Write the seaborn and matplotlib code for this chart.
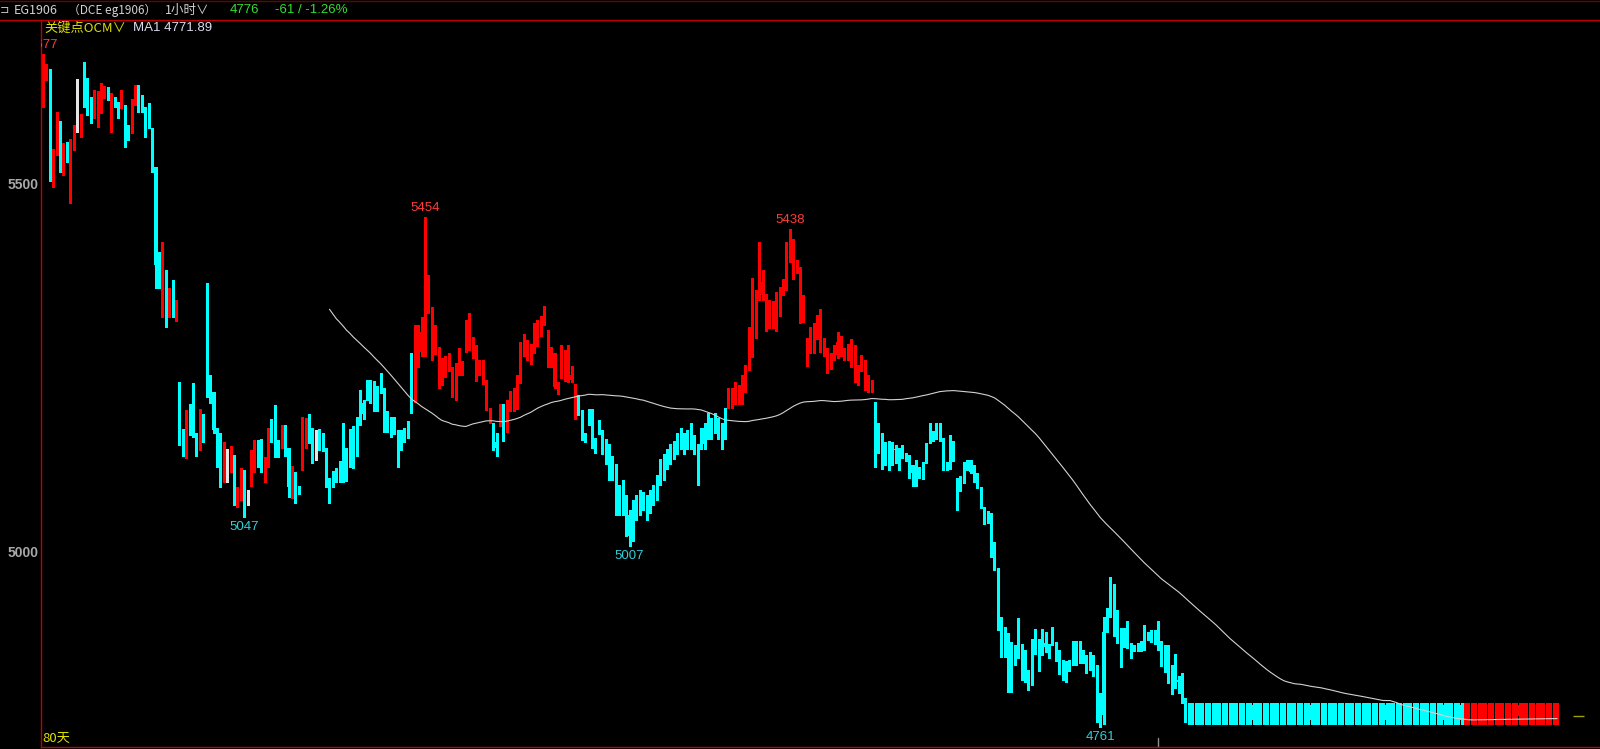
import numpy as np
import pandas as pd
import matplotlib
matplotlib.use("Agg")
import matplotlib.pyplot as plt
from matplotlib.lines import Line2D
import seaborn as sns

# ---- EG1906 hourly candles ----
opens = [
    5618, 5644, 5651, 5505, 5582, 5583, 5523, 5549, 5519, 5549,  # 0
    5573, 5573, 5648, 5641, 5618, 5591, 5591, 5603, 5622, 5630,  # 10
    5588, 5614, 5610, 5604, 5578, 5576, 5570, 5611, 5627, 5606,  # 20
    5599, 5587, 5561, 5523, 5389, 5385, 5380, 5347, 5354, 5321,  # 30
    5199, 5158, 5142, 5184, 5199, 5154, 5140, 5181, 5301, 5233,  # 40
    5216, 5166, 5140, 5114, 5120, 5114, 5103, 5074, 5074, 5107,  # 50
    5072, 5093, 5110, 5135, 5151, 5110, 5117, 5158, 5167, 5147,  # 60
    5142, 5164, 5140, 5087, 5103, 5086, 5140, 5142, 5174, 5151,  # 70
    5161, 5161, 5155, 5140, 5099, 5106, 5107, 5117, 5110, 5135,  # 80
    5120, 5155, 5137, 5219, 5201, 5219, 5223, 5223, 5217, 5226,  # 90
    5210, 5182, 5182, 5182, 5140, 5154, 5165, 5165, 5216, 5203,  # 100
    5250, 5271, 5271, 5325, 5298, 5276, 5240, 5237, 5242, 5253,  # 110
    5223, 5226, 5242, 5244, 5274, 5285, 5271, 5233, 5251, 5230,  # 120
    5192, 5178, 5174, 5148, 5172, 5196, 5168, 5195, 5210, 5196,  # 130
    5229, 5278, 5284, 5264, 5278, 5280, 5310, 5308, 5294, 5260,  # 140
    5270, 5226, 5240, 5237, 5270, 5233, 5192, 5206, 5192, 5160,  # 150
    5189, 5189, 5154, 5176, 5161, 5146, 5139, 5125, 5118, 5076,  # 160
    5097, 5069, 5049, 5062, 5069, 5069, 5076, 5069, 5076, 5083,  # 170
    5097, 5118, 5125, 5132, 5139, 5146, 5153, 5160, 5153, 5160,  # 180
    5167, 5153, 5139, 5160, 5167, 5181, 5174, 5181, 5174, 5167,  # 190
    5181, 5215, 5200, 5205, 5206, 5206, 5216, 5246, 5283, 5346,  # 200
    5342, 5349, 5319, 5304, 5306, 5331, 5324, 5349, 5355, 5393,  # 210
    5372, 5383, 5317, 5314, 5276, 5276, 5297, 5298, 5271, 5278,  # 220
    5251, 5251, 5271, 5267, 5270, 5260, 5264, 5251, 5233, 5237,  # 230
    5256, 5226, 5218, 5218, 5189, 5154, 5153, 5138, 5147, 5147,  # 240
    5138, 5140, 5138, 5132, 5131, 5117, 5114, 5114, 5121, 5147,  # 250
    5162, 5162, 5162, 5162, 5154, 5121, 5148, 5148, 5099, 5094,  # 260
    5121, 5121, 5124, 5117, 5106, 5087, 5049, 5052, 5052, 5008,  # 270
    4977, 4893, 4889, 4875, 4869, 4869, 4869, 4868, 4861, 4831,  # 280
    4875, 4869, 4879, 4872, 4875, 4872, 4882, 4876, 4856, 4852,  # 290
    4848, 4849, 4849, 4865, 4863, 4863, 4859, 4859, 4855, 4845,  # 300
    4795, 4777, 4897, 4910, 4951, 4906, 4888, 4888, 4890, 4875,  # 310
    4872, 4872, 4872, 4883, 4883, 4888, 4887, 4888, 4872, 4868,  # 320
    4868, 4845, 4827, 4825, 4815, 4800,                          # 330
]
highs = [
    5677, 5663, 5656, 5547, 5598, 5585, 5555, 5557, 5561, 5580,
    5642, 5595, 5666, 5644, 5618, 5627, 5626, 5637, 5633, 5632,
    5623, 5618, 5611, 5627, 5607, 5580, 5615, 5634, 5634, 5621,
    5604, 5610, 5576, 5523, 5407, 5421, 5383, 5358, 5369, 5342,
    5230, 5166, 5192, 5200, 5229, 5160, 5193, 5187, 5365, 5239,
    5216, 5167, 5161, 5148, 5139, 5143, 5131, 5087, 5113, 5110,
    5083, 5137, 5151, 5151, 5153, 5128, 5167, 5180, 5199, 5151,
    5172, 5171, 5140, 5116, 5107, 5088, 5182, 5181, 5187, 5168,
    5165, 5166, 5161, 5140, 5099, 5109, 5113, 5122, 5174, 5140,
    5166, 5170, 5182, 5219, 5205, 5233, 5233, 5231, 5225, 5242,
    5222, 5190, 5182, 5182, 5165, 5165, 5168, 5177, 5270, 5308,
    5308, 5318, 5454, 5376, 5332, 5308, 5278, 5263, 5266, 5270,
    5250, 5256, 5276, 5258, 5314, 5324, 5291, 5280, 5260, 5260,
    5233, 5195, 5174, 5160, 5200, 5200, 5205, 5218, 5222, 5240,
    5284, 5296, 5287, 5282, 5310, 5314, 5320, 5334, 5301, 5278,
    5270, 5230, 5280, 5274, 5280, 5252, 5227, 5212, 5192, 5160,
    5193, 5193, 5154, 5178, 5165, 5153, 5146, 5130, 5118, 5090,
    5097, 5076, 5056, 5069, 5076, 5083, 5080, 5076, 5083, 5090,
    5104, 5125, 5132, 5139, 5146, 5150, 5160, 5167, 5160, 5165,
    5174, 5158, 5146, 5167, 5174, 5188, 5181, 5188, 5181, 5174,
    5195, 5222, 5222, 5230, 5226, 5240, 5253, 5305, 5372, 5355,
    5420, 5383, 5350, 5342, 5340, 5352, 5360, 5370, 5420, 5438,
    5425, 5396, 5387, 5348, 5290, 5305, 5310, 5321, 5330, 5290,
    5276, 5270, 5280, 5298, 5293, 5276, 5282, 5288, 5280, 5253,
    5267, 5260, 5240, 5233, 5203, 5174, 5160, 5148, 5150, 5148,
    5145, 5140, 5145, 5134, 5131, 5117, 5124, 5115, 5121, 5147,
    5174, 5164, 5174, 5174, 5154, 5121, 5158, 5150, 5099, 5102,
    5121, 5124, 5124, 5117, 5106, 5087, 5060, 5055, 5052, 5012,
    4977, 4910, 4896, 4889, 4876, 4872, 4909, 4874, 4865, 4838,
    4880, 4894, 4880, 4894, 4890, 4874, 4897, 4876, 4865, 4852,
    4850, 4852, 4878, 4878, 4878, 4865, 4859, 4862, 4859, 4845,
    4807, 4910, 4922, 4965, 4955, 4920, 4895, 4895, 4905, 4875,
    4872, 4875, 4877, 4900, 4890, 4893, 4892, 4905, 4877, 4872,
    4872, 4845, 4860, 4830, 4834, 4800,
]
lows = [
    5604, 5641, 5503, 5495, 5539, 5516, 5512, 5530, 5474, 5546,
    5570, 5564, 5604, 5593, 5583, 5589, 5577, 5596, 5617, 5614,
    5570, 5604, 5589, 5603, 5550, 5559, 5569, 5607, 5598, 5597,
    5564, 5576, 5516, 5358, 5358, 5319, 5305, 5319, 5319, 5313,
    5144, 5130, 5127, 5158, 5155, 5130, 5137, 5149, 5210, 5201,
    5160, 5114, 5087, 5094, 5094, 5108, 5063, 5060, 5070, 5047,
    5062, 5089, 5107, 5114, 5107, 5094, 5114, 5148, 5128, 5128,
    5140, 5129, 5074, 5072, 5066, 5077, 5110, 5140, 5147, 5120,
    5124, 5138, 5136, 5087, 5065, 5087, 5094, 5094, 5094, 5096,
    5115, 5113, 5130, 5172, 5180, 5205, 5201, 5190, 5190, 5215,
    5162, 5162, 5155, 5159, 5114, 5137, 5149, 5154, 5188, 5203,
    5250, 5266, 5266, 5324, 5260, 5268, 5222, 5226, 5237, 5245,
    5210, 5205, 5240, 5240, 5271, 5274, 5263, 5231, 5240, 5228,
    5192, 5174, 5138, 5130, 5170, 5150, 5162, 5190, 5190, 5193,
    5229, 5265, 5260, 5255, 5270, 5279, 5293, 5308, 5250, 5250,
    5222, 5214, 5236, 5232, 5230, 5230, 5180, 5185, 5151, 5148,
    5172, 5140, 5133, 5159, 5132, 5118, 5097, 5097, 5049, 5049,
    5049, 5021, 5007, 5014, 5042, 5049, 5056, 5042, 5052, 5062,
    5069, 5090, 5097, 5111, 5118, 5125, 5132, 5139, 5132, 5139,
    5139, 5132, 5090, 5139, 5139, 5153, 5153, 5160, 5153, 5139,
    5153, 5195, 5195, 5200, 5200, 5200, 5216, 5246, 5264, 5290,
    5342, 5342, 5300, 5303, 5303, 5300, 5320, 5349, 5355, 5393,
    5370, 5378, 5310, 5312, 5252, 5270, 5270, 5288, 5271, 5266,
    5242, 5248, 5260, 5263, 5266, 5260, 5260, 5251, 5230, 5226,
    5245, 5219, 5216, 5216, 5114, 5133, 5112, 5117, 5110, 5117,
    5120, 5110, 5127, 5122, 5100, 5088, 5088, 5100, 5098, 5120,
    5147, 5150, 5152, 5150, 5110, 5110, 5112, 5122, 5056, 5082,
    5093, 5110, 5106, 5094, 5086, 5058, 5037, 5038, 4992, 4974,
    4893, 4856, 4856, 4808, 4808, 4845, 4855, 4825, 4822, 4811,
    4818, 4860, 4837, 4858, 4862, 4855, 4872, 4850, 4833, 4825,
    4822, 4837, 4845, 4845, 4848, 4848, 4834, 4838, 4830, 4768,
    4761, 4765, 4890, 4910, 4885, 4875, 4842, 4870, 4868, 4855,
    4864, 4864, 4864, 4865, 4879, 4876, 4874, 4865, 4843, 4835,
    4820, 4806, 4813, 4807, 4793, 4768,
]
closes = [
    5644, 5651, 5505, 5542, 5584, 5523, 5549, 5543, 5549, 5573,
    5573, 5591, 5641, 5617, 5591, 5604, 5603, 5622, 5630, 5618,
    5614, 5610, 5604, 5626, 5573, 5572, 5611, 5619, 5606, 5598,
    5587, 5576, 5523, 5389, 5382, 5419, 5321, 5354, 5321, 5332,
    5155, 5143, 5184, 5172, 5158, 5140, 5181, 5151, 5210, 5210,
    5165, 5140, 5117, 5120, 5120, 5140, 5069, 5083, 5107, 5049,
    5072, 5110, 5151, 5124, 5110, 5120, 5158, 5151, 5147, 5142,
    5162, 5131, 5087, 5097, 5083, 5079, 5176, 5174, 5161, 5120,
    5161, 5151, 5138, 5090, 5079, 5099, 5101, 5101, 5099, 5101,
    5155, 5120, 5178, 5176, 5187, 5210, 5216, 5215, 5215, 5215,
    5169, 5178, 5158, 5161, 5138, 5140, 5151, 5154, 5203, 5280,
    5298, 5298, 5366, 5366, 5332, 5298, 5263, 5263, 5258, 5257,
    5240, 5256, 5256, 5256, 5298, 5301, 5287, 5274, 5253, 5250,
    5233, 5195, 5148, 5140, 5196, 5155, 5188, 5215, 5215, 5237,
    5284, 5283, 5262, 5280, 5290, 5312, 5295, 5321, 5260, 5270,
    5223, 5222, 5244, 5270, 5233, 5240, 5223, 5192, 5151, 5148,
    5172, 5154, 5137, 5161, 5139, 5125, 5118, 5104, 5056, 5062,
    5056, 5028, 5021, 5021, 5049, 5056, 5062, 5049, 5056, 5069,
    5076, 5097, 5104, 5118, 5125, 5132, 5139, 5146, 5139, 5146,
    5146, 5139, 5104, 5146, 5146, 5160, 5160, 5167, 5160, 5146,
    5160, 5200, 5215, 5222, 5219, 5219, 5246, 5291, 5351, 5351,
    5366, 5366, 5332, 5335, 5338, 5338, 5349, 5355, 5396, 5433,
    5412, 5387, 5387, 5335, 5280, 5298, 5308, 5308, 5330, 5280,
    5276, 5267, 5276, 5285, 5285, 5276, 5267, 5274, 5276, 5240,
    5257, 5257, 5240, 5221, 5135, 5133, 5127, 5124, 5120, 5138,
    5137, 5124, 5127, 5127, 5114, 5106, 5108, 5106, 5113, 5120,
    5154, 5155, 5154, 5155, 5113, 5113, 5114, 5124, 5086, 5086,
    5093, 5110, 5108, 5094, 5086, 5060, 5040, 5038, 5008, 4981,
    4893, 4875, 4869, 4808, 4808, 4849, 4859, 4838, 4829, 4822,
    4831, 4865, 4848, 4861, 4869, 4861, 4875, 4856, 4838, 4845,
    4829, 4841, 4848, 4849, 4859, 4852, 4838, 4845, 4838, 4773,
    4773, 4890, 4890, 4951, 4890, 4875, 4852, 4883, 4870, 4868,
    4868, 4866, 4868, 4868, 4879, 4884, 4882, 4868, 4854, 4841,
    4825, 4820, 4822, 4822, 4797, 4770,
]

# flat bars drawn after the last traded hour
tail_opens = [4790] * 109
tail_highs = [4793] * 109
tail_lows = [4764] * 109
tail_closes = [4770] * 81 + [4776] * 28

key_highs = [0, 112, 219]   # labelled turning points
key_lows = [59, 172, 310]
ma_window = 85
time_cursor = 327

RED = "#ff0000"
CYAN = "#00ffff"
WHITE = "#e6e6e6"
FRAME = "#c00000"

df = pd.DataFrame({
    "open": opens + tail_opens,
    "high": highs + tail_highs,
    "low": lows + tail_lows,
    "close": closes + tail_closes,
})
df["ma"] = df["close"].rolling(ma_window).mean()


def candle_colour(row):
    if np.isnan(row["ma"]):
        if row["close"] > row["open"]:
            return RED
        if row["close"] < row["open"]:
            return CYAN
        return WHITE
    return RED if row["close"] > row["ma"] else CYAN


df["colour"] = df.apply(candle_colour, axis=1)
df["body_lo"] = df[["open", "close"]].min(axis=1)
df["body_h"] = (df["open"] - df["close"]).abs().clip(lower=1.4)
# rising candles before the average starts are drawn hollow
df["hollow"] = df["ma"].isna() & (df["close"] > df["open"])

sns.set_style("dark", {"axes.facecolor": "black", "figure.facecolor": "black"})
plt.rcParams["font.family"] = ["Liberation Sans", "Noto Sans CJK SC", "DejaVu Sans"]

W, H = 1600, 749
fig = plt.figure(figsize=(16, 7.49), dpi=100)
fig.patch.set_facecolor("black")
ax = fig.add_axes([41 / W, 2 / H, (W - 41) / W, 727 / H])
ax.set_facecolor("black")

x = np.arange(len(df))
ax.vlines(x, df["low"], df["high"], colors=df["colour"], linewidth=0.75, antialiased=False)

solid = df[~df["hollow"]]
ax.bar(solid.index, solid["body_h"], bottom=solid["body_lo"], width=0.62,
       color=solid["colour"], linewidth=0, antialiased=False)
hollow = df[df["hollow"]]
ax.bar(hollow.index, hollow["body_h"], bottom=hollow["body_lo"], width=0.5,
       facecolor="black", edgecolor=hollow["colour"], linewidth=0.7, antialiased=False)

sns.lineplot(x=x, y=df["ma"], color="#d2d2d2", linewidth=0.8, ax=ax,
             estimator=None, sort=False, legend=False)

for i in key_highs:
    ax.annotate(f"{df['high'][i]:.0f}", xy=(i, df["high"][i]), xytext=(0, 3),
                textcoords="offset pixels", ha="center", va="bottom",
                color="#ff3c3c", fontsize=9.5, clip_on=True)
for i in key_lows:
    ax.annotate(f"{df['low'][i]:.0f}", xy=(i, df["low"][i]), xytext=(0, -4),
                textcoords="offset pixels", ha="center", va="top",
                color="#30d0d8", fontsize=9.5, clip_on=True)

# little markers: time cursor at the bottom, last price on the right
ax.axvline(time_cursor, ymin=0, ymax=0.013, color="#909090", linewidth=1)
ax.hlines(df["close"].iloc[-1], 0.9827, 0.9897, transform=ax.get_yaxis_transform(),
          color="#a0a000", linewidth=1)

ax.set_xlim(-0.59, 456.6)
ax.set_ylim(4733.3, 5722.8)
ax.set_xticks([])
ax.set_yticks([5000, 5500])
ax.set_yticklabels(["5000", "5500"])
ax.tick_params(axis="y", length=0, pad=1.5, labelcolor="#a8a8a8", labelsize=10)
for lab in ax.get_yticklabels():
    lab.set_fontweight("bold")
ax.set_xlabel("")
ax.set_ylabel("")
ax.grid(False)
for side in ["top", "right"]:
    ax.spines[side].set_visible(False)
for side in ["left", "bottom"]:
    ax.spines[side].set_color(FRAME)
    ax.spines[side].set_linewidth(1)

# header bar
fig.add_artist(Line2D([0, 1], [1 - 20 / H] * 2, color=FRAME, linewidth=1))
fig.add_artist(Line2D([0, 1], [1 - 0.5 / H] * 2, color="#700000", linewidth=1))


def px(xp, yp):
    return xp / W, 1 - yp / H


cjk = ["Noto Sans CJK SC", "DejaVu Sans"]
fig.text(*px(0, 10), "⊐", color="#c8c8c8", fontsize=8, va="center", family=cjk)
fig.text(*px(14, 10), "EG1906", color="#d0d0d0", fontsize=9, va="center", family=cjk)
fig.text(*px(68, 10), "（DCE eg1906）", color="#d0d0d0", fontsize=8.5, va="center", family=cjk)
fig.text(*px(165, 10), "1小时∨", color="#d0d0d0", fontsize=9, va="center", family=cjk)
fig.text(*px(230, 10), "4776", color="#30e030", fontsize=9.5, va="center")
fig.text(*px(275, 10), "-61 / -1.26%", color="#30e030", fontsize=9.5, va="center")
fig.text(*px(44, 28), "关键点OCM∨", color="#e0e000", fontsize=9.5, va="center", family=cjk)
fig.text(*px(133, 28), "MA1 4771.89", color="#dcdcf0", fontsize=9.5, va="center")
fig.text(*px(42, 738), "80天", color="#e0e000", fontsize=9.5, va="center", family=cjk)

fig.savefig("out.png", dpi=100, facecolor="black")
